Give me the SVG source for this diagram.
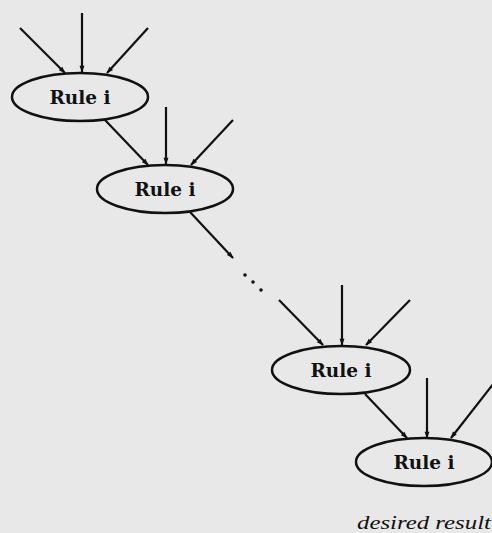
<svg xmlns="http://www.w3.org/2000/svg" width="492" height="533" viewBox="0 0 492 533">
<defs>
<marker id="ah" viewBox="0 0 10 10" refX="9" refY="5" markerWidth="8" markerHeight="7" orient="auto" markerUnits="userSpaceOnUse">
<path d="M0,1.5 L10,5 L0,8.5 Z" fill="#111"/>
</marker>
<style>
.node ellipse{fill:none;stroke:#111;stroke-width:2.5}
.node text{font-family:"DejaVu Serif","Liberation Serif",serif;font-weight:bold;font-size:18.5px;fill:#111;text-anchor:middle}
#connectors line{stroke:#111;stroke-width:2.2;marker-end:url(#ah)}
.dot{fill:#111}
.cap{font-family:"Liberation Serif",serif;font-style:italic;font-size:19px;fill:#111}
</style>
</defs>
<rect x="0" y="0" width="492" height="533" fill="#e8e8e8"/>
<g id="connectors">
<line x1="20" y1="28" x2="65" y2="73"/>
<line x1="82" y1="13" x2="82" y2="72"/>
<line x1="148" y1="28" x2="107" y2="73"/>
<line x1="105" y1="120" x2="148" y2="165"/>
<line x1="166" y1="107" x2="166" y2="164"/>
<line x1="233" y1="120" x2="191" y2="165"/>
<line x1="190" y1="212" x2="233" y2="258"/>
<line x1="279" y1="300" x2="323" y2="345"/>
<line x1="342" y1="285" x2="342" y2="345"/>
<line x1="410" y1="300" x2="366" y2="345"/>
<line x1="365" y1="394" x2="407" y2="438"/>
<line x1="427" y1="378" x2="427" y2="438"/>
<line x1="494" y1="383" x2="451" y2="438"/>
</g>
<g id="ellipsis">
<circle class="dot" cx="245" cy="275" r="1.8"/>
<circle class="dot" cx="253" cy="282" r="1.8"/>
<circle class="dot" cx="261" cy="290" r="1.8"/>
</g>
<g id="rule1" class="node">
<ellipse cx="80" cy="97" rx="68" ry="24"/>
<text x="80" y="104">Rule i</text>
</g>
<g id="rule2" class="node">
<ellipse cx="165" cy="189" rx="68" ry="24"/>
<text x="165" y="196">Rule i</text>
</g>
<g id="rule3" class="node">
<ellipse cx="341" cy="370" rx="69" ry="24"/>
<text x="341" y="377">Rule i</text>
</g>
<g id="rule4" class="node">
<ellipse cx="424" cy="462" rx="68" ry="24"/>
<text x="424" y="469">Rule i</text>
</g>
<text class="cap" x="357" y="529" textLength="134" lengthAdjust="spacingAndGlyphs">desired result</text>
</svg>
